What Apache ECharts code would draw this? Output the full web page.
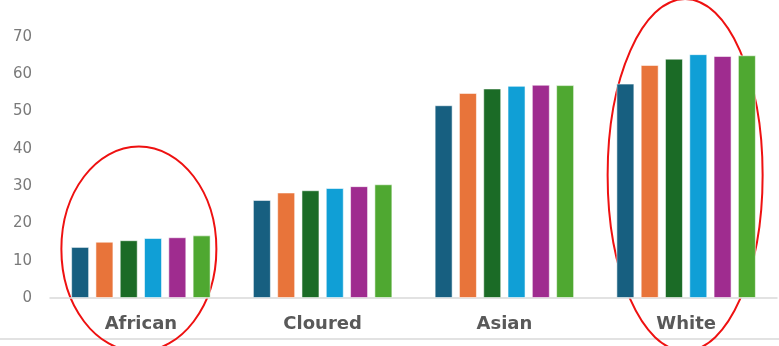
<!DOCTYPE html>
<html>
<head>
<meta charset="utf-8">
<script src="https://cdn.jsdelivr.net/npm/echarts@6/dist/echarts.min.js"></script>
<style>
  html, body { margin: 0; padding: 0; background: #ffffff; }
  #chart { width: 779px; height: 346px; }
</style>
</head>
<body>
<div id="chart"></div>
<script>
// Population groups along the x axis
const categories = ['African', 'Cloured', 'Asian', 'White'];

// Six series per group, one value per population group
const series1 = [13.7, 26.3, 51.7, 57.5];
const series2 = [15.1, 28.3, 55.0, 62.5];
const series3 = [15.5, 28.9, 56.2, 64.2];
const series4 = [16.1, 29.5, 56.9, 65.4];
const series5 = [16.3, 30.0, 57.2, 64.9];
const series6 = [16.8, 30.5, 57.1, 65.1];

const yTicks = [0, 10, 20, 30, 40, 50, 60, 70];

const allSeries = [series1, series2, series3, series4, series5, series6];
const colors = ['#175f80', '#e8743a', '#1b6b26', '#109fd6', '#9f2c8f', '#4fa831'];

const chart = echarts.init(document.getElementById('chart'), null, { renderer: 'canvas' });

const option = {
  animation: false,
  backgroundColor: '#ffffff',
  grid: { left: 50, right: 2, top: 37, bottom: 48, containLabel: false },
  xAxis: {
    type: 'category',
    data: categories,
    axisLine: { show: true, lineStyle: { color: '#d9d9d9', width: 1.5 } },
    axisTick: { show: false },
    axisLabel: {
      color: '#595959',
      fontFamily: 'DejaVu Sans, Verdana, sans-serif',
      fontWeight: 'bold',
      fontSize: 18,
      margin: 17
    }
  },
  yAxis: {
    type: 'value',
    min: yTicks[0],
    max: yTicks[yTicks.length - 1],
    interval: 10,
    splitLine: { show: false },
    axisLine: { show: false },
    axisTick: { show: false },
    axisLabel: {
      color: '#7a7a7a',
      fontFamily: 'DejaVu Sans, Verdana, sans-serif',
      fontSize: 15,
      margin: 18
    }
  },
  series: allSeries.map((vals, i) => ({
    type: 'bar',
    data: vals,
    barWidth: 18,
    barGap: '35%',
    itemStyle: { color: colors[i], borderColor: 'rgba(255,255,255,0.55)', borderWidth: 1 }
  }))
};

chart.setOption(option);

// Highlight rings around the African and White groups, plus the frame rule
const cxAfrican = chart.convertToPixel({ xAxisIndex: 0 }, 'African');
const cxWhite = chart.convertToPixel({ xAxisIndex: 0 }, 'White');

chart.setOption({
  graphic: [
    {
      type: 'line',
      shape: { x1: 0, y1: 339, x2: 779, y2: 339 },
      style: { stroke: '#d9d9d9', lineWidth: 1.5 },
      silent: true
    },
    {
      type: 'ellipse',
      shape: { cx: cxAfrican - 2, cy: 249, rx: 77.5, ry: 102.5 },
      style: { fill: 'none', stroke: '#ee1111', lineWidth: 2 },
      silent: true
    },
    {
      type: 'ellipse',
      shape: { cx: cxWhite - 1, cy: 175, rx: 77.5, ry: 176 },
      style: { fill: 'none', stroke: '#ee1111', lineWidth: 2 },
      silent: true
    }
  ]
});
</script>
</body>
</html>
